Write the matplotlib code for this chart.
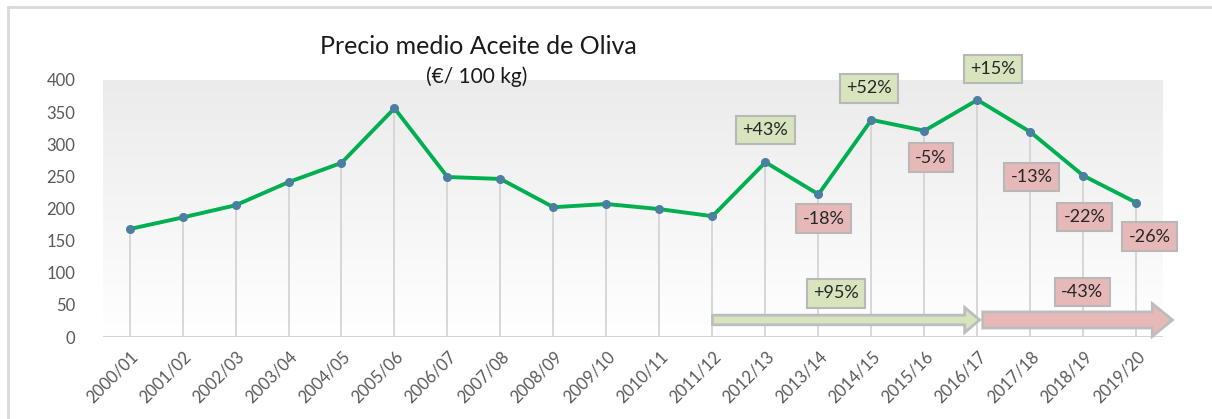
import numpy as np
import matplotlib.pyplot as plt
from matplotlib.patches import FancyArrow
from matplotlib.lines import Line2D

plt.rcParams['font.family'] = ['Lato', 'DejaVu Sans']

campanas = ['2000/01', '2001/02', '2002/03', '2003/04', '2004/05', '2005/06',
            '2006/07', '2007/08', '2008/09', '2009/10', '2010/11', '2011/12',
            '2012/13', '2013/14', '2014/15', '2015/16', '2016/17', '2017/18',
            '2018/19', '2019/20']
precio = [168, 186, 205, 241, 271, 356, 249, 246, 202, 207, 199, 188,
          272, 222, 338, 321, 369, 319, 251, 209]

# etiquetas de variacion: (texto, x, y, tipo)
etiquetas = [('+43%', 12.0, 322, 'up'), ('+52%', 13.95, 387, 'up'),
             ('+15%', 16.3, 417, 'up'), ('-18%', 13.1, 184, 'down'),
             ('-5%', 15.12, 279, 'down'), ('-13%', 17.02, 249, 'down'),
             ('-22%', 18.02, 187, 'down'), ('-26%', 19.25, 156, 'down'),
             ('+95%', 13.33, 68, 'up'), ('-43%', 17.98, 70, 'down')]

verde = '#d7e4bd'
rojo = '#e6b9b8'
borde = '#b8b8b8'

fig = plt.figure(figsize=(12.12, 4.19), dpi=100)
ax = fig.add_axes([0.085, 0.1957, 0.8745, 0.6134])

x = np.arange(len(campanas))
ax.set_xlim(-0.5, len(campanas) - 0.5)
ax.set_ylim(0, 400)

# fondo degradado
grad = np.linspace(1.0, 0.0, 256).reshape(-1, 1)
ax.imshow(grad, extent=[-0.5, len(campanas) - 0.5, 0, 400], aspect='auto',
          cmap=plt.matplotlib.colors.LinearSegmentedColormap.from_list('g', ['#ebebeb', '#ffffff']),
          origin='lower', zorder=0)

# lineas de caida
ax.vlines(x, 0, precio, color='#d4d4d4', lw=1.3, zorder=1)
ax.axhline(0, color='#d0d0d0', lw=1.3, zorder=1)

ax.plot(x, precio, color='#00b050', lw=2.8, marker='o', markersize=5.5,
        markerfacecolor='#4a7fa0', markeredgecolor='#4a7fa0', zorder=3)

# flechas de periodo
ax.add_patch(FancyArrow(11, 26.5, 16.04 - 11 - 0.28, 0, width=15, head_width=39,
                        head_length=0.28, length_includes_head=False,
                        fc=verde, ec='#bdbdbd', lw=2, zorder=2, clip_on=False))
ax.add_patch(FancyArrow(16.1, 26.5, 19.68 - 16.1 - 0.38, 0, width=25, head_width=51,
                        head_length=0.38, length_includes_head=False,
                        fc=rojo, ec='#bdbdbd', lw=2, zorder=2, clip_on=False))

for txt, tx, ty, tipo in etiquetas:
    ax.text(tx, ty, txt, ha='center', va='center', fontsize=13, color='#262626',
            zorder=5, clip_on=False,
            bbox=dict(boxstyle='square,pad=0.35', fc=verde if tipo == 'up' else rojo,
                      ec=borde, lw=1.5))

ax.set_xticks(x)
ax.set_xticklabels(campanas, rotation=45, ha='right', rotation_mode='anchor',
                   fontsize=12, color='#595959')
ax.set_yticks(range(0, 401, 50))
ax.tick_params(axis='y', labelsize=12, labelcolor='#595959', length=0, pad=20)
ax.tick_params(axis='x', length=0, pad=8)
for s in ax.spines.values():
    s.set_visible(False)

fig.text(0.395, 0.888, 'Precio medio Aceite de Oliva', ha='center', va='center',
         fontsize=18, color='#1a1a1a')
fig.text(0.393, 0.818, '(€/ 100 kg)', ha='center', va='center',
         fontsize=15, color='#1a1a1a')

# marco del grafico
fig.add_artist(Line2D([8 / 1212, 1], [1 - 7 / 419, 1 - 7 / 419], color='#d9d9d9', lw=2))
fig.add_artist(Line2D([8 / 1212, 8 / 1212], [0, 1 - 7 / 419], color='#d9d9d9', lw=2))

fig.savefig('out.png', dpi=100)
